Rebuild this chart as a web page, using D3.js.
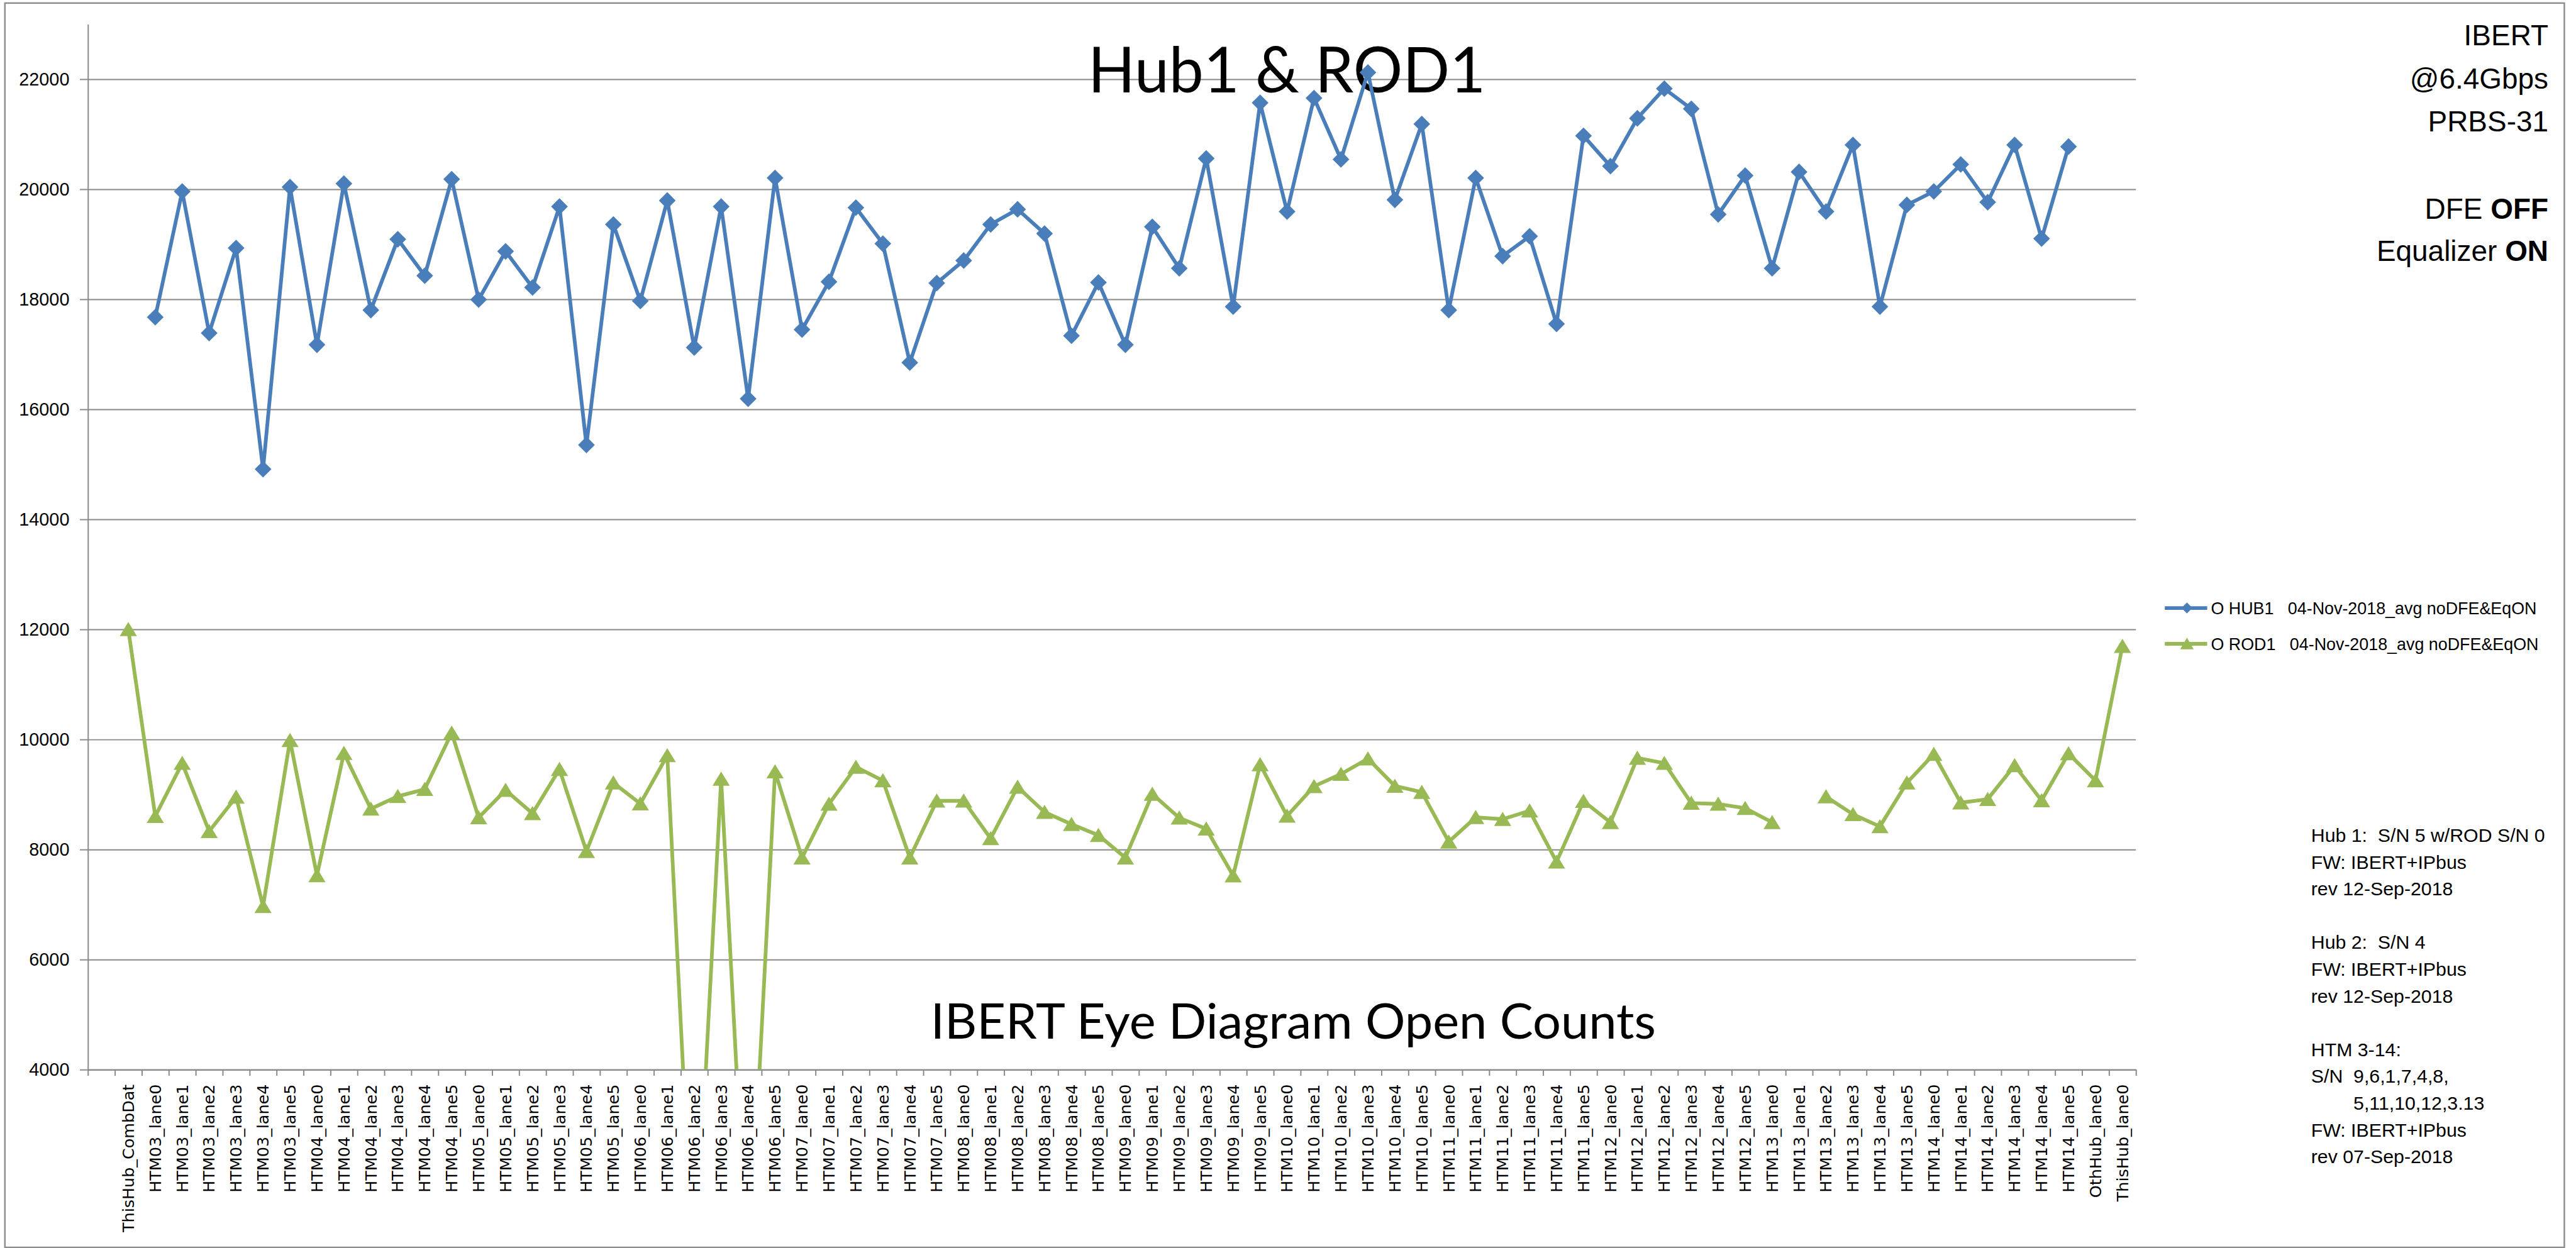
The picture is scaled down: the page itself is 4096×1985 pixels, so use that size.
<!DOCTYPE html>
<html>
<head>
<meta charset="utf-8">
<script src="https://cdn.jsdelivr.net/npm/d3@7"></script>
<style>
  body { margin: 0; background: #fff; }
  svg text { white-space: pre; }
</style>
</head>
<body>
<svg></svg>
<script>
// categories along the x axis (first band is empty in the original sheet)
const categories = [
  "", "ThisHub_CombDat",
  "HTM03_lane0", "HTM03_lane1", "HTM03_lane2", "HTM03_lane3", "HTM03_lane4", "HTM03_lane5",
  "HTM04_lane0", "HTM04_lane1", "HTM04_lane2", "HTM04_lane3", "HTM04_lane4", "HTM04_lane5",
  "HTM05_lane0", "HTM05_lane1", "HTM05_lane2", "HTM05_lane3", "HTM05_lane4", "HTM05_lane5",
  "HTM06_lane0", "HTM06_lane1", "HTM06_lane2", "HTM06_lane3", "HTM06_lane4", "HTM06_lane5",
  "HTM07_lane0", "HTM07_lane1", "HTM07_lane2", "HTM07_lane3", "HTM07_lane4", "HTM07_lane5",
  "HTM08_lane0", "HTM08_lane1", "HTM08_lane2", "HTM08_lane3", "HTM08_lane4", "HTM08_lane5",
  "HTM09_lane0", "HTM09_lane1", "HTM09_lane2", "HTM09_lane3", "HTM09_lane4", "HTM09_lane5",
  "HTM10_lane0", "HTM10_lane1", "HTM10_lane2", "HTM10_lane3", "HTM10_lane4", "HTM10_lane5",
  "HTM11_lane0", "HTM11_lane1", "HTM11_lane2", "HTM11_lane3", "HTM11_lane4", "HTM11_lane5",
  "HTM12_lane0", "HTM12_lane1", "HTM12_lane2", "HTM12_lane3", "HTM12_lane4", "HTM12_lane5",
  "HTM13_lane0", "HTM13_lane1", "HTM13_lane2", "HTM13_lane3", "HTM13_lane4", "HTM13_lane5",
  "HTM14_lane0", "HTM14_lane1", "HTM14_lane2", "HTM14_lane3", "HTM14_lane4", "HTM14_lane5",
  "OthHub_lane0", "ThisHub_lane0"
];

const hub1Values = [
  null, null,
  17675, 19960, 17387, 18931, 14912, 20040,
  17173, 20101, 17804, 19090, 18428, 20181,
  17994, 18870, 18214, 19684, 15353, 19360,
  17969, 19795, 17124, 19684, 16193, 20205,
  17448, 18318, 19666, 19010, 16848, 18294,
  18704, 19360, 19635, 19194, 17338, 18306,
  17173, 19317, 18563, 20560, 17865, 21571,
  19593, 21657, 20542, 22122, 19807, 21185,
  17804, 20205, 18784, 19145, 17552, 20971,
  20419, 21289, 21828, 21461, 19543, 20248,
  18563, 20315, 19593, 20805, 17865, 19715,
  19960, 20450, 19764, 20805, 19102, 20775,
  null, null
];

const rod1Values = [
  null, 12000,
  8605, 9569, 8330, 8955, 6968, 9984,
  7529, 9750, 8739, 8967, 9095, 10118,
  8581, 9078, 8657, 9458, 7968, 9212,
  8833, 9709, 0, 9283, 0, 9417,
  7851, 8827, 9499, 9253, 7851, 8885,
  8885, 8201, 9136, 8680, 8459, 8260,
  7851, 9008, 8575, 8377, 7524, 9545,
  8610, 9148, 9370, 9651, 9154, 9043,
  8140, 8585, 8551, 8704, 7775, 8879,
  8494, 9662, 9569, 8844, 8827, 8751,
  8494, null, 8961, 8640, 8418, 9212,
  9733, 8850, 8914, 9528, 8891, 9744,
  9253, 11696
];

const yTicks = [4000, 6000, 8000, 10000, 12000, 14000, 16000, 18000, 20000, 22000];
const yDomain = [4000, 23000];

const seriesNames = [
  "O HUB1   04-Nov-2018_avg noDFE&EqON",
  "O ROD1   04-Nov-2018_avg noDFE&EqON"
];

const titleText = "Hub1 & ROD1";
const subtitleText = "IBERT Eye Diagram Open Counts";

// right hand notes: [normal part, bold part]
const topNotes = [
  ["IBERT", ""],
  ["@6.4Gbps", ""],
  ["PRBS-31", ""],
  ["", ""],
  ["DFE ", "OFF"],
  ["Equalizer ", "ON"]
];

const bottomNotes = [
  "Hub 1:  S/N 5 w/ROD S/N 0",
  "FW: IBERT+IPbus",
  "rev 12-Sep-2018",
  "",
  "Hub 2:  S/N 4",
  "FW: IBERT+IPbus",
  "rev 12-Sep-2018",
  "",
  "HTM 3-14:",
  "S/N  9,6,1,7,4,8,",
  "        5,11,10,12,3.13",
  "FW: IBERT+IPbus",
  "rev 07-Sep-2018"
];

window.addEventListener('load', e => {
  let k = 4096 / 4191;
  let left = 143, right = 3475, top = 39.3, bottom = 1740.7;
  let blue = "#4a7ebb", green = "#98b954", grid = "#888888";

  let svg = d3.select("svg").attr("width", 4096).attr("height", 1985);
  let g = svg.append("g").attr("transform", "scale(" + k + ")");

  // chart frame
  g.append("rect")
    .attr("x", 8).attr("y", 5)
    .attr("width", 4164).attr("height", 2025)
    .attr("fill", "#fff")
    .attr("stroke", "#8c8c8c")
    .attr("stroke-width", 2.5);

  let xScale = d3.scaleBand()
                 .domain(d3.range(categories.length))
                 .range([left, right]);

  let xEdge = d3.scaleLinear()
                .domain([0, categories.length])
                .range([left, right]);

  let yScale = d3.scaleLinear()
                 .domain(yDomain)
                 .range([bottom, top]);

  // gridlines
  let gridAxis = g.append("g")
    .attr("transform", "translate(" + left + ",0)")
    .call(d3.axisLeft(yScale).tickValues(yTicks).tickSize(-(right - left)).tickFormat(""));
  gridAxis.select(".domain").remove();
  gridAxis.selectAll("line").attr("stroke", grid).attr("stroke-width", 2);

  // titles
  g.append("text")
    .attr("x", 1770).attr("y", 150)
    .attr("font-family", "Lato")
    .attr("font-size", 103)
    .attr("textLength", 647)
    .attr("lengthAdjust", "spacingAndGlyphs")
    .text(titleText);

  g.append("text")
    .attr("x", 1514).attr("y", 1690)
    .attr("font-family", "Lato")
    .attr("font-size", 80)
    .attr("textLength", 1180)
    .attr("lengthAdjust", "spacingAndGlyphs")
    .text(subtitleText);

  // y axis
  let yAxis = g.append("g")
    .attr("transform", "translate(" + left + ",0)")
    .call(d3.axisLeft(yScale).tickValues(yTicks).tickSize(13).tickSizeOuter(0).tickPadding(17).tickFormat(d3.format("d")));
  yAxis.select(".domain").attr("stroke", grid).attr("stroke-width", 2);
  yAxis.selectAll("line").attr("stroke", grid).attr("stroke-width", 2);
  yAxis.selectAll("text")
    .attr("font-family", "Liberation Sans")
    .attr("font-size", 29.5)
    .attr("fill", "#000");

  // x axis line and boundary ticks
  let xAxis = g.append("g")
    .attr("transform", "translate(0," + bottom + ")")
    .call(d3.axisBottom(xEdge).tickValues(d3.range(categories.length + 1)).tickSize(10).tickSizeOuter(0).tickFormat(""));
  xAxis.select(".domain").attr("stroke", grid).attr("stroke-width", 2);
  xAxis.selectAll("line").attr("stroke", grid).attr("stroke-width", 2);

  // x labels
  let xLabels = g.append("g")
    .attr("transform", "translate(0," + bottom + ")")
    .call(d3.axisBottom(xScale).tickSize(0).tickFormat(i => categories[i]));
  xLabels.select(".domain").remove();
  xLabels.selectAll("text")
    .attr("transform", "rotate(-90)")
    .attr("x", -24)
    .attr("y", 0)
    .attr("dy", "0.35em")
    .attr("text-anchor", "end")
    .attr("font-family", "DejaVu Sans")
    .attr("font-size", 26)
    .attr("fill", "#000");

  // clip series at the plot area
  g.append("clipPath").attr("id", "plotClip")
    .append("rect")
    .attr("x", left).attr("y", 0)
    .attr("width", right - left + 20).attr("height", bottom);

  let cx = i => xScale(i) + xScale.bandwidth() / 2;
  let line = d3.line()
               .defined(d => d.v !== null)
               .x(d => cx(d.i))
               .y(d => yScale(d.v));

  let hubData = hub1Values.map((v, i) => ({ i: i, v: v }));
  let rodData = rod1Values.map((v, i) => ({ i: i, v: v }));

  let plot = g.append("g").attr("clip-path", "url(#plotClip)");

  plot.append("path")
    .datum(rodData)
    .attr("d", line)
    .attr("fill", "none")
    .attr("stroke", green)
    .attr("stroke-width", 6)
    .attr("stroke-linejoin", "round");

  plot.selectAll(".rod")
    .data(rodData.filter(d => d.v !== null))
    .enter()
    .append("path")
      .attr("class", "rod")
      .attr("transform", d => "translate(" + cx(d.i) + "," + yScale(d.v) + ")")
      .attr("d", "M0,-12L14,11L-14,11Z")
      .attr("fill", green);

  plot.append("path")
    .datum(hubData)
    .attr("d", line)
    .attr("fill", "none")
    .attr("stroke", blue)
    .attr("stroke-width", 6)
    .attr("stroke-linejoin", "round");

  plot.selectAll(".hub")
    .data(hubData.filter(d => d.v !== null))
    .enter()
    .append("path")
      .attr("class", "hub")
      .attr("transform", d => "translate(" + cx(d.i) + "," + yScale(d.v) + ") rotate(45)")
      .attr("d", d3.symbol(d3.symbolSquare, 370))
      .attr("fill", blue);

  // legend
  let legendY = [989.5, 1047.7];
  let legendColors = [blue, green];
  let legend = g.append("g");
  seriesNames.forEach((name, i) => {
    legend.append("line")
      .attr("x1", 3522).attr("x2", 3591)
      .attr("y1", legendY[i]).attr("y2", legendY[i])
      .attr("stroke", legendColors[i])
      .attr("stroke-width", 6);
    if (i === 0) {
      legend.append("path")
        .attr("transform", "translate(3558," + legendY[i] + ") rotate(45)")
        .attr("d", d3.symbol(d3.symbolSquare, 160))
        .attr("fill", blue);
    } else {
      legend.append("path")
        .attr("transform", "translate(3558," + legendY[i] + ")")
        .attr("d", "M0,-10L11,9L-11,9Z")
        .attr("fill", green);
    }
    legend.append("text")
      .attr("x", 3597)
      .attr("y", legendY[i] + 10)
      .attr("font-family", "Liberation Sans")
      .attr("font-size", 27.5)
      .attr("fill", "#000")
      .text(name);
  });

  // notes top right
  let topBase = [74, 144, 214, 284, 356, 425];
  topNotes.forEach((n, i) => {
    if (!n[0] && !n[1]) return;
    let t = g.append("text")
      .attr("x", 4146)
      .attr("y", topBase[i])
      .attr("text-anchor", "end")
      .attr("font-family", "Liberation Sans")
      .attr("font-size", 47)
      .attr("fill", "#000");
    t.append("tspan").text(n[0]);
    if (n[1]) t.append("tspan").attr("font-weight", "bold").text(n[1]);
  });

  // notes bottom right
  bottomNotes.forEach((s, i) => {
    if (!s) return;
    g.append("text")
      .attr("x", 3760)
      .attr("y", 1370 + i * 43.6)
      .attr("font-family", "Liberation Sans")
      .attr("font-size", 31)
      .attr("fill", "#000")
      .text(s);
  });
});
</script>
</body>
</html>
